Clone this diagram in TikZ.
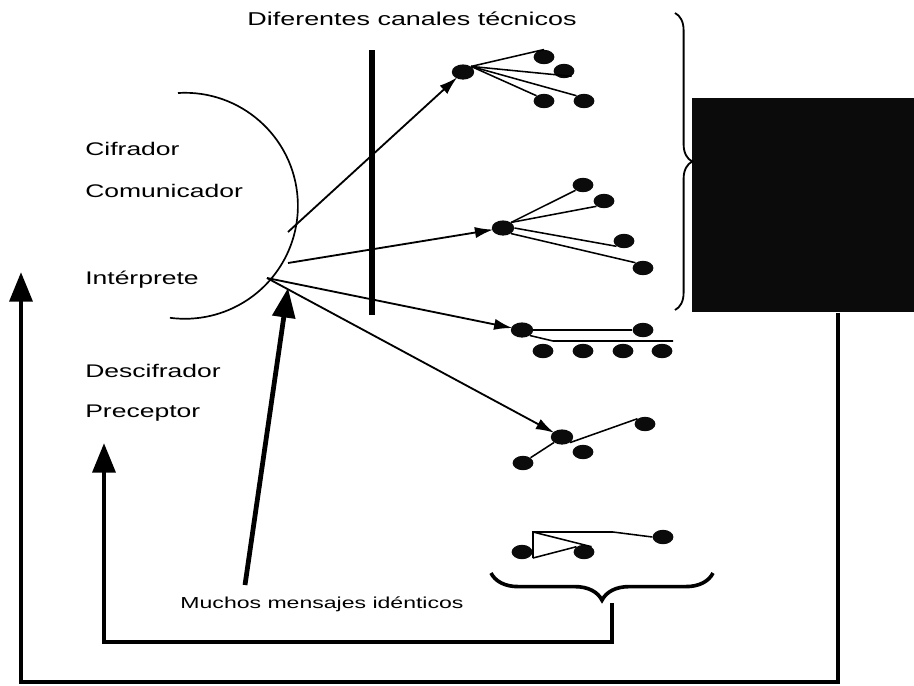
\documentclass[tikz,border=0pt]{standalone}
\usepackage{fontspec}
\usetikzlibrary{arrows.meta,calc,positioning,shapes.geometric,decorations.pathreplacing}
\newfontfamily\widesf{Liberation Sans}[FakeStretch=1.45]
\definecolor{ScanBlack}{HTML}{0B0B0B}

\begin{document}
\begin{tikzpicture}[x=0.025cm,y=-0.025cm,
    lbl/.style={anchor=base west,inner sep=0pt,font=\widesf\fontsize{13}{15}\selectfont},
    hub/.style={ellipse,fill=ScanBlack,inner sep=0pt,minimum width=0.56cm,minimum height=0.38cm},
    dot/.style={ellipse,fill=ScanBlack,inner sep=0pt,minimum width=0.52cm,minimum height=0.36cm},
    ray/.style={-{Latex[length=13pt,width=8pt]},line width=1.3pt,shorten >=-1pt},
    twig/.style={line width=1.1pt},
    big/.style={-{Triangle[length=21pt,width=16pt]},line width=3.4pt,line join=miter},
    brc/.style={decorate,decoration={brace}}]
    \useasboundingbox (0,0) rectangle (914,685);

    \node[lbl] (cif) at (85,155) {Cifrador};
    \node[lbl] (com) at (85,197) {Comunicador};
    \node[lbl] (inter) at (85,284) {Intérprete};
    \node[lbl] (desc) at (85,377) {Descifrador};
    \node[lbl] (prec) at (85,417) {Preceptor};
    \node[anchor=base,inner sep=0pt,font=\widesf\fontsize{13.2}{15}\selectfont] (title) at (412,25) {Diferentes canales técnicos};
    \node[anchor=base,inner sep=0pt,font=\widesf\fontsize{11.3}{13}\selectfont] (muchos) at (322,608) {Muchos mensajes idénticos};

    \draw[line width=1.2pt] (178,93) arc[start angle=-93.5,end angle=97.6,radius=113];
    \draw[line width=4.5pt] (372,50) -- (372,315);

    \node[fill=ScanBlack,anchor=north west,inner sep=0pt,minimum width=5.55cm,minimum height=5.35cm] (screen) at (692,98) {};

    % canal 1
    \node[hub] (h1) at (463,72) {};
    \node[dot] (s11) at (544,57) {};
    \node[dot] (s12) at (564,71) {};
    \node[dot] (s13) at (544,101) {};
    \node[dot] (s14) at (584,101) {};
    \draw[twig] (h1.north east) -- (s11.north);
    \draw[twig] (h1.north east) -- (s12.south east);
    \draw[twig] (h1.north east) -- (s13.north west);
    \draw[twig] (h1.north east) -- (s14.north west);
    % canal 2
    \node[hub] (h2) at (503,228) {};
    \node[dot] (s21) at (583,185) {};
    \node[dot] (s22) at (604,201) {};
    \node[dot] (s23) at (624,241) {};
    \node[dot] (s24) at (643,268) {};
    \draw[twig] (h2.north east) -- (s21.south west);
    \draw[twig] (h2.north east) -- (s22.south west);
    \draw[twig] (h2.east) -- (s23.south west);
    \draw[twig] (h2.south east) -- (s24.north west);
    % canal 3
    \node[hub] (h3) at (522,330) {};
    \node[dot] (s31) at (643,330) {};
    \node[dot] (s32) at (543,351) {};
    \node[dot] (s33) at (583,351) {};
    \node[dot] (s34) at (623,351) {};
    \node[dot] (s35) at (662,351) {};
    \coordinate (k3) at (553,341);
    \coordinate (e3) at (673,341);
    \draw[twig] (h3.east) -- (s31.west);
    \draw[twig] (h3.south east) -- (k3) -- (e3);
    % canal 4
    \node[hub] (h4) at (562,437) {};
    \node[dot] (s41) at (645,424) {};
    \node[dot] (s42) at (583,452) {};
    \node[dot] (s43) at (523,463) {};
    \draw[twig] (h4.south west) -- (s43.north east);
    \draw[twig] (h4.south east) -- (s41.north west);
    % canal 5
    \node[dot] (s51) at (522,552) {};
    \node[dot] (s52) at (584,552) {};
    \node[dot] (s53) at (663,537) {};
    \coordinate (a5) at (533,532);
    \coordinate (b5) at (533,558);
    \coordinate (k5) at (613,532);
    \draw[twig] (b5) -- (a5) -- (k5) -- (s53.west);
    \draw[twig] (a5) -- (s52.north east);
    \draw[twig] (b5) -- (s52.north west);

    % rayos
    \coordinate (o1) at (288,232);
    \coordinate (o2) at (288,263);
    \coordinate (o3) at (267,278);
    \draw[ray] (o1) -- (h1);
    \draw[ray] (o2) -- (h2);
    \draw[ray] (o3) -- (h3);
    \draw[ray] (o3) -- (h4);

    % llaves
    \draw[brc,decoration={amplitude=0.43cm},line width=1.3pt] (675,13) -- (675,310);
    \draw[brc,decoration={amplitude=0.68cm},line width=2.6pt] (713,573) -- (491,573);

    % retorno
    \coordinate (m0) at (245,585);
    \coordinate (mtip) at (288,288);
    \draw[big] (m0) -- (mtip);
    \coordinate (bt) at (612,603);
    \coordinate (c2) at (612,642);
    \coordinate (c3) at (104,642);
    \coordinate (ptip) at (104,443);
    \draw[big] (bt) -- (c2) -- (c3) -- (ptip);
    \coordinate (fr) at (838,682);
    \coordinate (fl) at (21,682);
    \coordinate (ltip) at (21,272);
    \draw[big] (screen.south -| fr) -- (fr) -- (fl) -- (ltip);
\end{tikzpicture}
\end{document}
